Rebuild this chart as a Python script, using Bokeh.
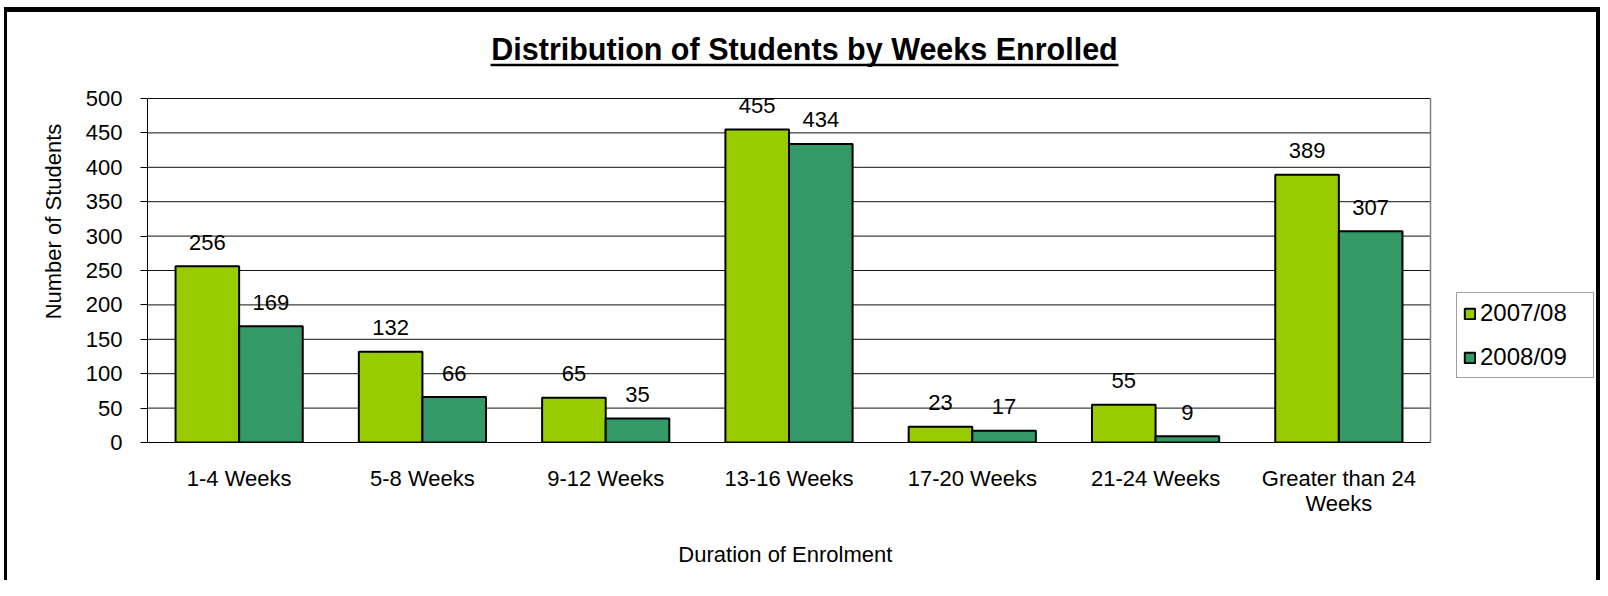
from bokeh.plotting import figure
from bokeh.models import ColumnDataSource, Range1d, FixedTicker, Legend, LegendItem, Label, BoxAnnotation
from bokeh.transform import dodge
from bokeh.core.properties import value
from bokeh.embed import file_html
from bokeh.resources import INLINE

categories = ["1-4 Weeks", "5-8 Weeks", "9-12 Weeks", "13-16 Weeks", "17-20 Weeks",
              "21-24 Weeks", "Greater than 24\nWeeks"]
series_names = ["2007/08", "2008/09"]
values_2007 = [256, 132, 65, 455, 23, 55, 389]
values_2008 = [169, 66, 35, 434, 17, 9, 307]
y_ticks = [0, 50, 100, 150, 200, 250, 300, 350, 400, 450, 500]
y_max = 500

FONT = "Liberation Sans"
GREEN = "#99CC00"
TEAL = "#339966"

N = len(categories)
W, H = 1600, 580
FR_L = 147                          # plot area left (px)
FR_R = FR_L + 1283
FR_B, FR_T = 442, 98
PX_X = (FR_R - FR_L) / N
PX_Y = (FR_B - FR_T) / y_max


def dx(px):
    return (px - FR_L) / PX_X


def dy(py):
    return (FR_B - py) / PX_Y


p = figure(width=W, height=H, output_backend="svg", toolbar_location=None,
           x_range=Range1d(0, dx(W)), y_range=Range1d(0, dy(0)),
           min_border_left=FR_L, min_border_right=0, min_border_top=0,
           min_border_bottom=H - FR_B)
p.background_fill_color = None
p.border_fill_color = None
p.outline_line_color = None
# outer black frame of the chart area
p.styles = {"box-shadow": "inset 0 7px 0 0 white, inset 4px 0 0 0 white, "
                          "inset 7px 0 0 0 black, inset 0 12px 0 0 black, "
                          "inset -4px 0 0 0 black"}

centers = [i + 0.5 for i in range(N)]
src = ColumnDataSource(dict(x=centers, a=values_2007, b=values_2008,
                            ta=[str(v) for v in values_2007],
                            tb=[str(v) for v in values_2008]))

# gridlines and plot-area right edge (only over the category area)
p.xgrid.grid_line_color = None
p.ygrid.grid_line_color = None
p.segment(x0=[0] * len(y_ticks), x1=[N] * len(y_ticks), y0=y_ticks, y1=y_ticks,
          line_color="#111111", line_width=1)
p.segment(x0=[N], x1=[N], y0=[0], y1=[y_max], line_color="#808080", line_width=1.5)

BW = 0.347
OFF = BW / 2
r1 = p.vbar(x=dodge("x", -OFF), top="a", width=BW, source=src, fill_color=GREEN,
            line_color="black", line_width=2)
r2 = p.vbar(x=dodge("x", OFF), top="b", width=BW, source=src, fill_color=TEAL,
            line_color="black", line_width=2)

for ycol, tcol, off in (("a", "ta", -OFF), ("b", "tb", OFF)):
    p.text(x=dodge("x", off), y=ycol, text=tcol, source=src, text_font=value(FONT),
           text_font_size="22px", text_align="center", text_baseline="middle",
           y_offset=-24, text_color="black")

# axes
frame_center = (FR_L + W) / 2
target_center = (FR_L + FR_R) / 2 - 2.5
n_pad = max(0, round(2 * (frame_center - target_center) / (0.2778 * 22)))

p.xaxis.ticker = FixedTicker(ticks=centers)
p.xaxis.major_label_overrides = {c: lab for c, lab in zip(centers, categories)}
p.xaxis.bounds = (0, N)
p.xaxis.major_tick_line_color = None
p.xaxis.minor_tick_line_color = None
p.xaxis.major_tick_out = 0
p.xaxis.major_tick_in = 0
p.xaxis.major_label_standoff = 23
p.xaxis.major_label_text_line_height = 1.0
p.xaxis.axis_line_color = "black"
p.xaxis.axis_label = "Duration of Enrolment" + "\u00a0" * n_pad
p.xaxis.axis_label_standoff = 23

p.yaxis.ticker = FixedTicker(ticks=y_ticks)
p.yaxis.bounds = (0, y_max)
p.yaxis.minor_tick_line_color = None
p.yaxis.major_tick_out = 7
p.yaxis.major_tick_in = 0
p.yaxis.major_tick_line_color = "black"
p.yaxis.axis_line_color = "black"
p.yaxis.major_label_standoff = 18
p.yaxis.axis_label = "Number of Students"
p.yaxis.axis_label_standoff = 17

for ax in (p.xaxis[0], p.yaxis[0]):
    ax.major_label_text_font = FONT
    ax.major_label_text_font_size = "22px"
    ax.major_label_text_color = "black"
    ax.axis_label_text_font = FONT
    ax.axis_label_text_font_size = "22px"
    ax.axis_label_text_font_style = "normal"
    ax.axis_label_text_color = "black"

# title (underlined)
p.add_layout(Label(x=dx(804), y=dy(48.5), text="Distribution of Students by Weeks Enrolled",
                   text_font=FONT, text_font_size="30.5px", text_font_style="bold",
                   text_align="center", text_baseline="middle", text_color="black"))
p.add_layout(BoxAnnotation(left=dx(490), right=dx(1118), top=dy(63.3), bottom=dy(65.8),
                           fill_color="black", fill_alpha=1, line_color=None))

legend = Legend(items=[LegendItem(label=series_names[0], renderers=[r1]),
                       LegendItem(label=series_names[1], renderers=[r2])],
                location=(1309, 64), orientation="vertical",
                label_text_font=FONT, label_text_font_size="24px", label_text_color="black",
                glyph_width=13, glyph_height=13, label_standoff=4, padding=6, spacing=16,
                label_width=107, label_height=24, margin=0, border_line_color="#404040",
                border_line_width=1.5, background_fill_color="white", background_fill_alpha=1)
p.add_layout(legend, "center")

open("out.html", "w").write(file_html(p, INLINE))
